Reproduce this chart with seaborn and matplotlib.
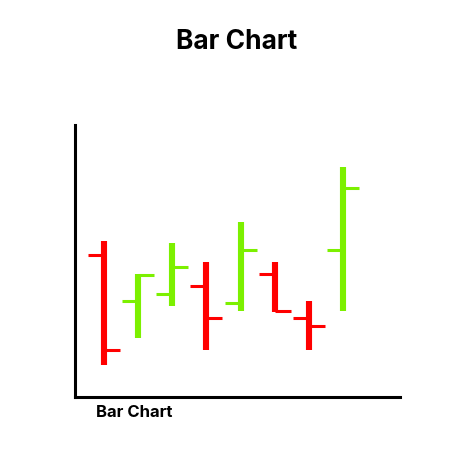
import numpy as np
import pandas as pd
from matplotlib import pyplot as plt
import seaborn as sns

sns.set_theme(style="white")
plt.rcParams['font.family'] = ['Inter', 'DejaVu Sans']

# OHLC values (arbitrary price units)
opens = [142, 96, 103, 111, 94, 123, 79, 147]
highs = [156, 123, 154, 135, 175, 135, 96, 230]
lows = [32, 59, 91, 47, 86, 85, 47, 86]
closes = [47, 122, 130, 79, 147, 86, 71, 209]

df = pd.DataFrame({"open": opens, "high": highs, "low": lows, "close": closes})
df["x"] = np.arange(len(df))
df["up"] = df["close"] > df["open"]

red = "#ff0000"
green = "#7cf000"
tick = 0.47

fig = plt.figure(figsize=(4.74, 4.61), dpi=100)
ax = fig.add_axes([75 / 474, 64 / 461, 325 / 474, 272 / 461])

for _, r in df.iterrows():
    c = green if r["up"] else red
    ax.vlines(r["x"], r["low"], r["high"], color=c, linewidth=4.4)
    ax.hlines(r["open"], r["x"] - tick, r["x"], color=c, linewidth=2.2)
    ax.hlines(r["close"], r["x"], r["x"] + tick, color=c, linewidth=2.2)

ax.set_xlim(-0.85, 8.67)
ax.set_ylim(0, 272)
ax.set_xticks([])
ax.set_yticks([])
sns.despine(ax=ax)
for s in ["left", "bottom"]:
    ax.spines[s].set_color("black")
    ax.spines[s].set_linewidth(2.2)

fig.text(0.5, 1 - 42 / 461, "Bar Chart", ha="center", va="center",
         fontsize=19, fontweight="bold", color="black")
fig.text(96 / 474, 1 - 412 / 461, "Bar Chart", ha="left", va="center",
         fontsize=12, fontweight="bold", color="black")

fig.savefig("out.png", dpi=100)
